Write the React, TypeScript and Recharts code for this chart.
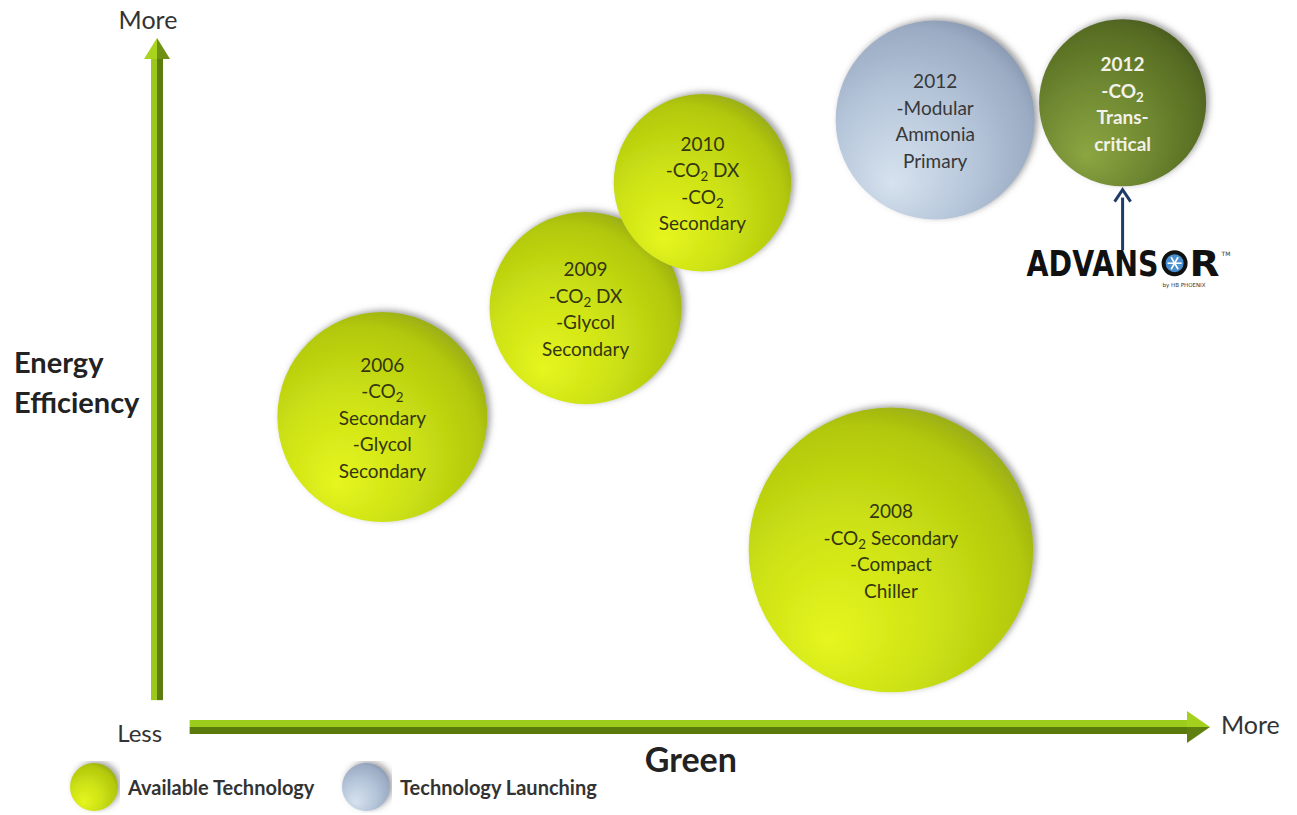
import React from "react";
import { ScatterChart, Scatter, XAxis, YAxis, ZAxis, ReferenceLine, Legend } from "recharts";

// bubble positions: green (x), energy efficiency (y), size (area units)
const availableGreen = [2.14, 4.07, 5.18, 6.97];
const availableEfficiency = [4.5, 6.08, 7.9, 2.57];
const availableSize = [49, 41, 35, 90];
const availableLines = [
  ["2006", "-CO2", "Secondary", "-Glycol", "Secondary"],
  ["2009", "-CO2 DX", "-Glycol", "Secondary"],
  ["2010", "-CO2 DX", "-CO2", "Secondary"],
  ["2008", "-CO2 Secondary", "-Compact", "Chiller"],
];

const launchingGreen = [7.39];
const launchingEfficiency = [8.81];
const launchingSize = [44];
const launchingLines = [["2012", "-Modular", "Ammonia", "Primary"]];

const advansorGreen = [9.17];
const advansorEfficiency = [9.06];
const advansorSize = [31];
const advansorLines = [["2012", "-CO2", "Trans-", "critical"]];

const legendNames = ["Available Technology", "Technology Launching"];

const build = (g: number[], e: number[], s: number[], l: string[][]) =>
  g.map((green, i) => ({ green, efficiency: e[i], size: s[i], lines: l[i] }));

const availableData = build(availableGreen, availableEfficiency, availableSize, availableLines);
const launchingData = build(launchingGreen, launchingEfficiency, launchingSize, launchingLines);
const advansorData = build(advansorGreen, advansorEfficiency, advansorSize, advansorLines);

const FONT = "Lato, 'Open Sans', sans-serif";
const LEGEND_H = 54;

function lineContent(text: string) {
  const parts = text.split("CO2");
  const out: React.ReactNode[] = [];
  parts.forEach((p, i) => {
    if (i > 0) {
      out.push(<tspan key={"c" + i}>CO</tspan>);
      out.push(
        <tspan key={"s" + i} dy={4} fontSize="0.7em">
          2
        </tspan>
      );
      out.push(
        <tspan key={"r" + i} dy={-4}>
          {p}
        </tspan>
      );
    } else if (p) {
      out.push(<tspan key={"p" + i}>{p}</tspan>);
    }
  });
  return out;
}

const makeBubble = (grad: string, textColor: string, bold: boolean) => (props: any) => {
  const { cx, cy, size, width, payload } = props;
  const r = size ? Math.sqrt(size / Math.PI) : width / 2;
  const lines: string[] = payload.lines;
  const lh = 26.5;
  const start = cy - ((lines.length - 1) * lh) / 2 + 8;
  return (
    <g>
      <circle cx={cx} cy={cy} r={r} fill={`url(#${grad})`} filter="url(#bubbleShadow)" />
      {lines.map((t, i) => (
        <text
          key={i}
          x={cx}
          y={start + i * lh}
          textAnchor="middle"
          fontFamily={FONT}
          fontSize={19}
          fontWeight={bold ? 700 : 400}
          fill={textColor}
        >
          {lineContent(t)}
        </text>
      ))}
    </g>
  );
};

const VerticalArrow = (props: any) => {
  const { x1, y1, y2 } = props;
  const x = x1;
  const top = Math.min(y1, y2);
  const bottom = Math.max(y1, y2);
  const mid = (top + bottom) / 2;
  return (
    <g>
      <rect x={x - 6} y={top + 20} width={6} height={bottom - top - 20} fill="#9cc81c" />
      <rect x={x} y={top + 20} width={6} height={bottom - top - 20} fill="#5d7c0e" />
      <polygon points={`${x},${top} ${x - 13},${top + 21} ${x},${top + 21}`} fill="#a8d41e" />
      <polygon points={`${x},${top} ${x + 13},${top + 21} ${x},${top + 21}`} fill="#6f9012" />
      <text x={x - 9} y={top - 9} textAnchor="middle" fontFamily={FONT} fontSize={25} fill="#333">
        More
      </text>
      <text x={14} y={mid + 4} fontFamily={FONT} fontSize={29} fontWeight={700} fill="#222">
        Energy
      </text>
      <text x={14} y={mid + 44} fontFamily={FONT} fontSize={29} fontWeight={700} fill="#222">
        Efficiency
      </text>
    </g>
  );
};

const HorizontalArrow = (props: any) => {
  const { x1, x2, y1 } = props;
  const y = y1;
  const left = Math.min(x1, x2);
  const right = Math.max(x1, x2);
  return (
    <g>
      <rect x={left} y={y - 7} width={right - left - 22} height={7} fill="#9ccc1c" />
      <rect x={left} y={y} width={right - left - 22} height={7} fill="#5a7a0c" />
      <polygon points={`${right},${y} ${right - 23},${y - 16} ${right - 23},${y}`} fill="#a4d01e" />
      <polygon points={`${right},${y} ${right - 23},${y + 16} ${right - 23},${y}`} fill="#5f800e" />
      <text x={left - 50} y={y + 15} textAnchor="middle" fontFamily={FONT} fontSize={24} fill="#333">
        Less
      </text>
      <text x={right + 11} y={y + 7} fontFamily={FONT} fontSize={25} fill="#333">
        More
      </text>
      <text
        x={(left + right) / 2 - 9}
        y={y + 45}
        textAnchor="middle"
        fontFamily={FONT}
        fontSize={34}
        fontWeight={700}
        fill="#222"
      >
        Green
      </text>
    </g>
  );
};

const AdvansorArrow = (props: any) => {
  const { x1, y1, y2 } = props;
  const x = x1;
  const top = Math.min(y1, y2);
  const bottom = Math.max(y1, y2);
  const ox = x + 52;
  const oy = bottom + 13;
  return (
    <g>
      <line x1={x} y1={bottom} x2={x} y2={top + 8} stroke="#1d3c6a" strokeWidth={3} />
      <polyline
        points={`${x - 8},${top + 12} ${x},${top} ${x + 8},${top + 12}`}
        fill="none"
        stroke="#1d3c6a"
        strokeWidth={3}
      />
      <text
        x={x - 96}
        y={bottom + 26}
        fontFamily="'DejaVu Sans', sans-serif"
        fontSize={35}
        fontWeight={700}
        fill="#111"
        textLength={132}
        lengthAdjust="spacingAndGlyphs"
      >
        ADVANS
      </text>
      <circle cx={ox} cy={oy} r={11} fill="#4a90d0" stroke="#111" strokeWidth={4} />
      {[0, 60, 120].map((a) => {
        const rad = (a * Math.PI) / 180;
        return (
          <line
            key={a}
            x1={ox - Math.cos(rad) * 7}
            y1={oy - Math.sin(rad) * 7}
            x2={ox + Math.cos(rad) * 7}
            y2={oy + Math.sin(rad) * 7}
            stroke="#fff"
            strokeWidth={1.6}
          />
        );
      })}
      <text
        x={x + 67}
        y={bottom + 26}
        fontFamily="'DejaVu Sans', sans-serif"
        fontSize={35}
        fontWeight={700}
        fill="#111"
        textLength={30}
        lengthAdjust="spacingAndGlyphs"
      >
        R
      </text>
      <text x={x + 99} y={bottom + 6} fontFamily="'DejaVu Sans', sans-serif" fontSize={6} fill="#333">
        TM
      </text>
      <text x={x + 40} y={bottom + 37} fontFamily="'DejaVu Sans', sans-serif" fontSize={5.5} fill="#333">
        by HB PHOENIX
      </text>
    </g>
  );
};

const legendGrad: Record<string, string> = {
  "Available Technology": "gradAvail",
  "Technology Launching": "gradLaunch",
};

const renderLegend = (props: any) => {
  const items: string[] =
    props.payload && props.payload.length
      ? props.payload.filter((p: any) => p.type !== "none").map((p: any) => p.value)
      : legendNames;
  return (
    <div style={{ display: "flex", alignItems: "center", height: LEGEND_H }}>
      {items.map((name) => (
        <div key={name} style={{ display: "flex", alignItems: "center", width: 272 }}>
          <svg width={52} height={52} style={{ marginRight: 8 }}>
            <circle cx={26} cy={26} r={24} fill={`url(#${legendGrad[name]})`} filter="url(#bubbleShadow)" />
          </svg>
          <span style={{ fontFamily: FONT, fontWeight: 700, fontSize: 20, color: "#333" }}>{name}</span>
        </div>
      ))}
    </div>
  );
};

export default function App() {
  return (
    <div style={{ position: "absolute", left: 0, top: 0, width: 1297, height: 815, background: "#fff" }}>
      <svg width={0} height={0} style={{ position: "absolute" }}>
        <defs>
          <radialGradient id="gradAvail" cx="0.4" cy="0.62" r="0.72" fx="0.28" fy="0.82">
            <stop offset="0" stopColor="#e6f520" />
            <stop offset="0.45" stopColor="#cde214" />
            <stop offset="0.82" stopColor="#b2c80e" />
            <stop offset="1" stopColor="#8e9e18" />
          </radialGradient>
          <radialGradient id="gradLaunch" cx="0.4" cy="0.62" r="0.72" fx="0.28" fy="0.82">
            <stop offset="0" stopColor="#d6e2ee" />
            <stop offset="0.5" stopColor="#b6c6da" />
            <stop offset="0.85" stopColor="#9aabc3" />
            <stop offset="1" stopColor="#7e8ea6" />
          </radialGradient>
          <radialGradient id="gradAdvansor" cx="0.4" cy="0.62" r="0.72" fx="0.28" fy="0.82">
            <stop offset="0" stopColor="#8ca642" />
            <stop offset="0.5" stopColor="#6d8630" />
            <stop offset="0.85" stopColor="#566b22" />
            <stop offset="1" stopColor="#44541c" />
          </radialGradient>
          <filter id="bubbleShadow" x="-20%" y="-20%" width="140%" height="140%">
            <feDropShadow dx={3} dy={-2} stdDeviation={3} floodColor="#555" floodOpacity={0.55} />
          </filter>
        </defs>
      </svg>
      <ScatterChart width={1297} height={815} margin={{ top: 38, right: 87, bottom: 88 - LEGEND_H, left: 157 }}>
        <XAxis type="number" dataKey="green" domain={[0, 10]} hide />
        <YAxis type="number" dataKey="efficiency" domain={[0, 10]} hide />
        <ZAxis type="number" dataKey="size" domain={[0, 100]} range={[0, 70686]} />
        <ReferenceLine
          segment={[
            { x: 0, y: 0.39 },
            { x: 0, y: 10 },
          ]}
          shape={VerticalArrow}
          ifOverflow="visible"
        />
        <ReferenceLine
          segment={[
            { x: 0.31, y: 0 },
            { x: 10, y: 0 },
          ]}
          shape={HorizontalArrow}
          ifOverflow="visible"
        />
        <ReferenceLine
          segment={[
            { x: 9.17, y: 6.92 },
            { x: 9.17, y: 7.8 },
          ]}
          shape={AdvansorArrow}
          ifOverflow="visible"
        />
        <Scatter
          name="Available Technology"
          data={availableData}
          fill="#c8de12"
          shape={makeBubble("gradAvail", "#33360f", false)}
          isAnimationActive={false}
        />
        <Scatter
          name="Technology Launching"
          data={launchingData}
          fill="#b6c6da"
          shape={makeBubble("gradLaunch", "#383838", false)}
          isAnimationActive={false}
        />
        <Scatter
          name="Advansor"
          data={advansorData}
          fill="#6d8630"
          legendType="none"
          shape={makeBubble("gradAdvansor", "#f2f2ea", true)}
          isAnimationActive={false}
        />
        <Legend
          content={renderLegend}
          wrapperStyle={{ position: "absolute", left: 68, top: 760, width: 620, height: LEGEND_H }}
        />
      </ScatterChart>
    </div>
  );
}
